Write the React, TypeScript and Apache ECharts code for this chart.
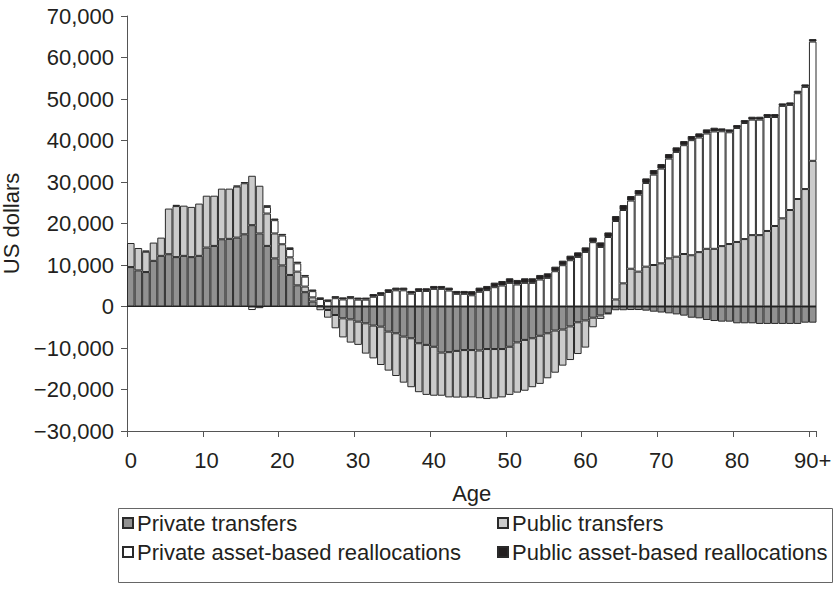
import React, { useEffect, useRef } from "react";
import * as echarts from "echarts";

const ages: string[] = Array.from({ length: 90 }, (_, i) => String(i)).concat(["90+"]);

const privateTransfers: number[] = [
  9500, 8700, 8300, 11000, 12200, 12600, 11900, 12200, 11900, 12200,
  14200, 14600, 16200, 16300, 16600, 17400, 19600, 17600, 14600, 11600,
  9900, 7600, 5100, 3450, 1200, 100, -840, -2050, -2850, -3100,
  -3650, -4050, -4600, -4850, -6050, -6450, -7250, -7650, -8850, -9250,
  -9700, -11100, -11000, -10700, -10500, -10500, -10600, -10250, -10250, -10250,
  -9700, -8650, -8050, -7650, -7050, -6450, -5800, -5550, -4800, -3800,
  -3350, -2700, -2150, -1650, -900, -900, -850, -850, -1000, -1250,
  -1450, -1650, -1900, -2200, -2700, -2850, -3250, -3500, -3650, -3650,
  -4050, -4050, -4050, -4200, -4200, -4200, -4200, -4200, -4200, -3900,
  -3900,
];

const publicTransfers: number[] = [
  5800, 5400, 4900, 4400, 4400, 11000, 12300, 12100, 12100, 12600,
  12500, 12100, 12200, 12100, 12300, 12300, 11900, 11500, 7800, 6000,
  5100, 4250, 3300, 1350, 1000, -900, -1850, -3200, -4600, -5600,
  -5600, -7300, -7900, -9250, -9400, -10300, -11100, -11800, -11800, -12050,
  -11800, -10400, -10900, -11250, -11450, -11400, -11500, -12050, -11900, -11650,
  -11600, -12100, -12250, -11800, -11600, -10850, -10150, -8700, -8100, -7650,
  -6550, -2300, -850, -200, 1700, 5580, 9100, 8400, 9600, 10000,
  10400, 11600, 12000, 12650, 12350, 13100, 13900, 13900, 14550, 15050,
  15550, 16250, 17200, 17200, 18200, 19400, 21250, 23250, 25900, 28300,
  35100,
];

const privateAssetRealloc: number[] = [
  0, 0, 0, 0, 0, 0, 0, 0, 0, 0,
  0, 0, 0, 0, 0, 0, -850, -400, 1600, 3200,
  2100, 2000, 2000, 2400, 1500, 1700, 1300, 2000, 1700, 2000,
  1650, 1650, 2350, 2800, 3500, 3900, 3900, 3100, 3750, 3750,
  4250, 4250, 3850, 3050, 3050, 2700, 3550, 3950, 4650, 5050,
  5700, 5300, 5700, 5700, 6500, 6900, 8500, 9950, 11150, 11950,
  13150, 15500, 14350, 16750, 18900, 17670, 16420, 18560, 20170, 21780,
  22830, 24040, 25250, 26220, 27730, 27620, 27780, 28280, 27670, 26930,
  27470, 27970, 27830, 27830, 27470, 26270, 27090, 25330, 25490, 24620,
  28740,
];

const publicAssetRealloc: number[] = [
  0, 0, 300, 0, 0, 0, 300, 0, 0, 0,
  0, 0, 0, 0, 250, 300, 0, 0, 400, 400,
  400, 400, 400, 400, 400, 400, 400, 500, 500, 500,
  500, 500, 650, 650, 650, 650, 650, 650, 650, 650,
  700, 700, 700, 700, 700, 1000, 1000, 1000, 1100, 1100,
  1100, 1100, 1100, 1100, 1100, 1100, 1100, 1100, 1100, 1100,
  1100, 1100, 1100, 1100, 1200, 1200, 1100, 1100, 1100, 1100,
  1100, 1100, 1100, 1000, 1000, 1000, 1000, 900, 700, 700,
  700, 700, 700, 700, 700, 700, 600, 600, 600, 600,
  600,
];

const seriesNames = [
  "Private transfers",
  "Public transfers",
  "Private asset-based reallocations",
  "Public asset-based reallocations",
];
const seriesColors = ["#919191", "#cbcbcb", "#ffffff", "#231f20"];

const FONT = "'Liberation Sans', Arial, Helvetica, sans-serif";
const TEXT = "#231f20";
const AXIS = "#555555";
const FS = 22;

export default function App() {
  const ref = useRef<HTMLDivElement>(null);
  useEffect(() => {
    if (!ref.current) return;
    const chart = echarts.init(ref.current, undefined, { renderer: "svg" });
    const datasets = [privateTransfers, publicTransfers, privateAssetRealloc, publicAssetRealloc];
    const series: any[] = datasets.map((arr, i) => ({
      name: seriesNames[i],
      type: "bar",
      stack: "total",
      barCategoryGap: "0%",
      data: arr.map((v) => (v === 0 ? null : v)),
      itemStyle: { color: seriesColors[i], borderColor: "#2a2a2a", borderWidth: 1 },
      emphasis: { disabled: true },
    }));
    series[0].markLine = {
      silent: true,
      symbol: "none",
      label: { show: false },
      lineStyle: { color: "#222", width: 1.2, type: "solid" },
      data: [{ yAxis: 0 }],
    };
    const legendPos = [
      { left: 122, top: 512 },
      { left: 497, top: 512 },
      { left: 122, top: 541 },
      { left: 497, top: 541 },
    ];
    chart.setOption({
      animation: false,
      textStyle: { fontFamily: FONT },
      grid: {
        left: 127,
        right: 18.5,
        top: 16,
        bottom: 164,
        containLabel: false,
        outerBoundsMode: "none",
      },
      xAxis: {
        type: "category",
        data: ages,
        name: "Age",
        nameLocation: "middle",
        nameGap: 51,
        nameTextStyle: { fontSize: FS, color: TEXT, fontFamily: FONT },
        axisLine: { show: true, onZero: false, lineStyle: { color: AXIS, width: 1 } },
        axisTick: { show: true, interval: 9, length: 6, lineStyle: { color: AXIS } },
        axisLabel: { interval: 9, fontSize: FS, color: TEXT, margin: 18, fontFamily: FONT },
        splitLine: { show: false },
      },
      yAxis: {
        type: "value",
        min: -30000,
        max: 70000,
        interval: 10000,
        name: "US dollars",
        nameLocation: "middle",
        nameGap: 96,
        nameTextStyle: { fontSize: FS, color: TEXT, fontFamily: FONT },
        axisLine: { show: true, lineStyle: { color: AXIS, width: 1 } },
        axisTick: { show: true, length: 6, lineStyle: { color: AXIS } },
        axisLabel: {
          fontSize: FS,
          color: TEXT,
          margin: 13,
          fontFamily: FONT,
          formatter: (v: number) => (v < 0 ? "\u2212" : "") + Math.abs(v).toLocaleString("en-US"),
        },
        splitLine: { show: false },
      },
      legend: seriesNames.map((n, i) => ({
        data: [n],
        left: legendPos[i].left,
        top: legendPos[i].top,
        padding: 0,
        icon: "rect",
        itemWidth: 10,
        itemHeight: 10,
        itemGap: 0,
        selectedMode: false,
        textStyle: { fontSize: FS, color: TEXT, fontFamily: FONT, padding: [0, 0, 0, -1] },
      })),
      graphic: [
        {
          type: "rect",
          shape: { x: 118.5, y: 508.5, width: 714, height: 74 },
          style: { fill: "none", stroke: "#666", lineWidth: 1 },
          silent: true,
        },
      ],
      series,
    });
    return () => chart.dispose();
  }, []);
  return (
    <div
      ref={ref}
      style={{ position: "absolute", left: 0, top: 0, width: 835, height: 595, background: "#fff" }}
    />
  );
}
